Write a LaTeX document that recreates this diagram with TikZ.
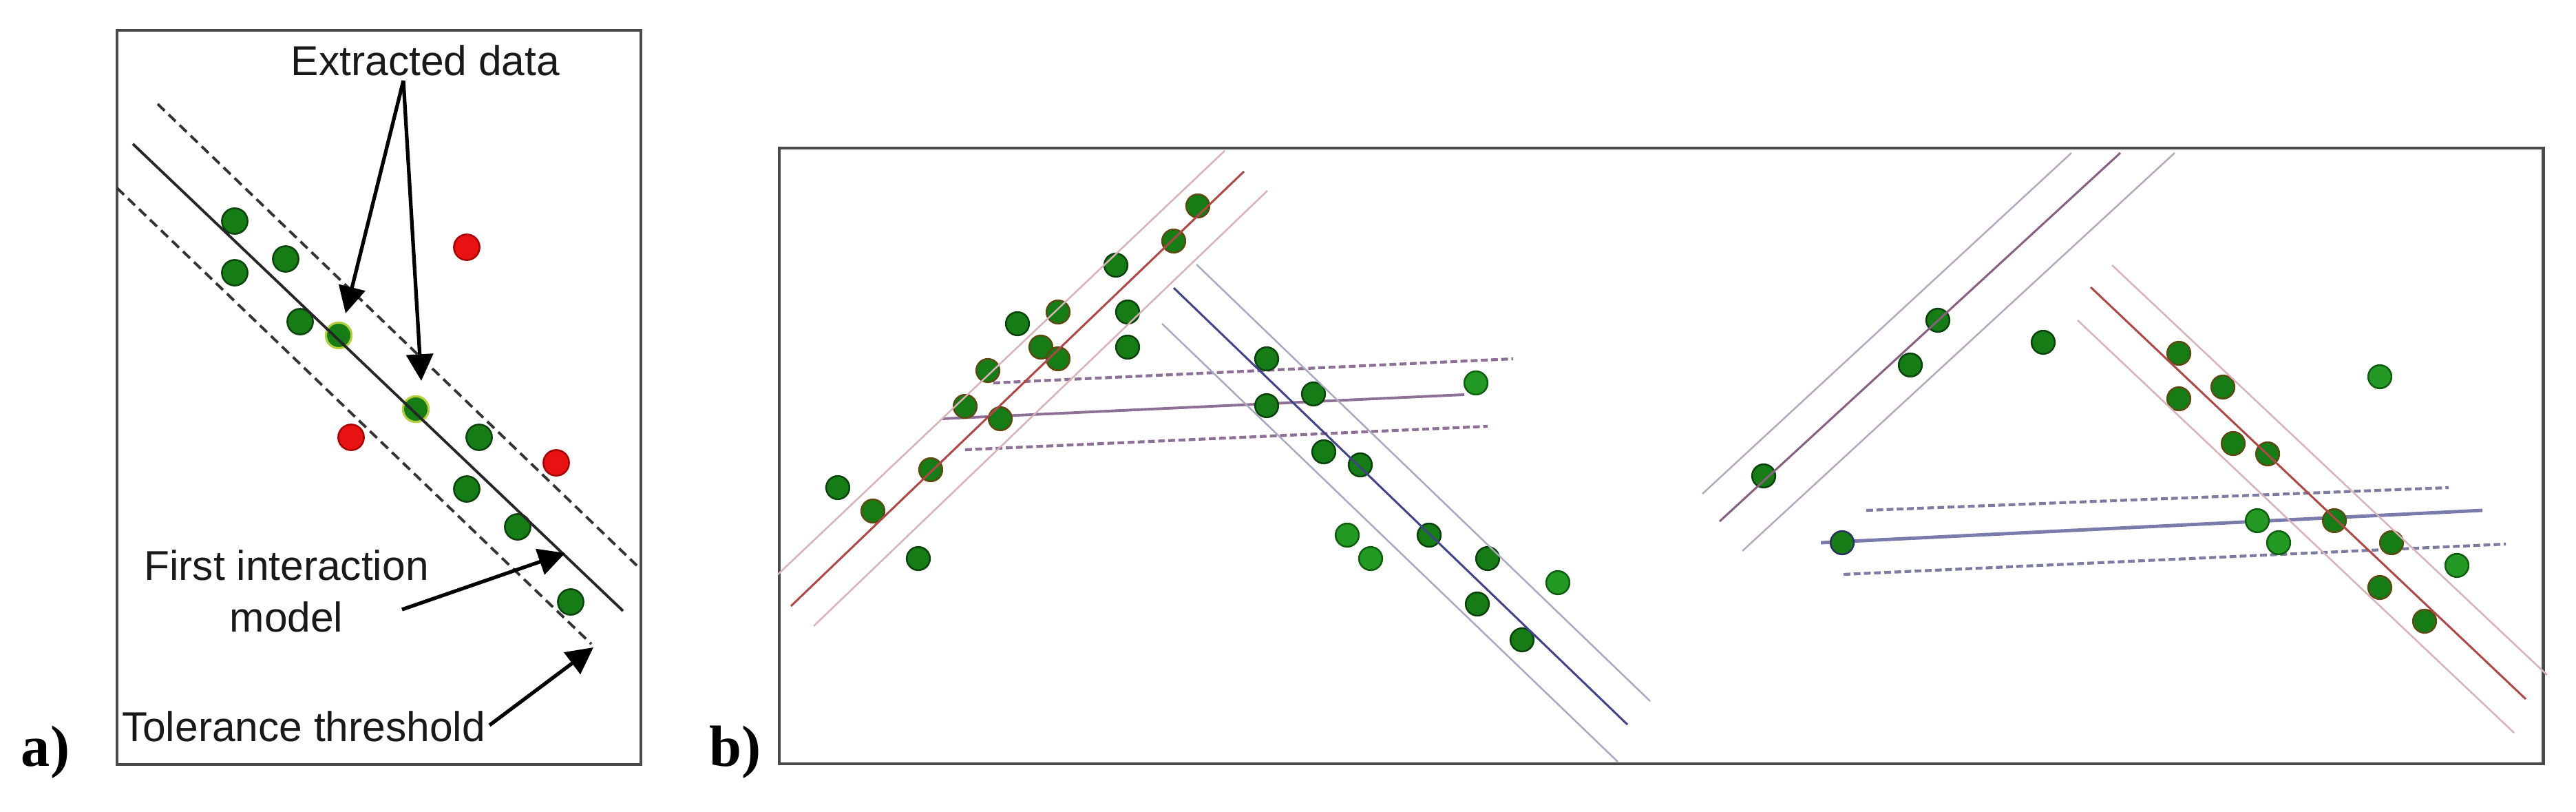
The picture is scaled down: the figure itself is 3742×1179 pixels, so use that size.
\documentclass[tikz,border=0pt]{standalone}
\usepackage{fontspec}
\setmainfont{Liberation Sans}
\newfontfamily\serifb{Liberation Serif}
\usetikzlibrary{arrows.meta}
\definecolor{boxc}{HTML}{4A4A4A}
\definecolor{dgreen}{HTML}{167C16}
\definecolor{ddark}{HTML}{0B420B}
\definecolor{dbrown}{HTML}{5C4A12}
\definecolor{lgreen}{HTML}{239A23}
\definecolor{lgdark}{HTML}{0E5E0E}
\definecolor{hlout}{HTML}{B4CE3C}
\definecolor{rfill}{HTML}{E81212}
\definecolor{rout}{HTML}{A80000}
\definecolor{redl}{HTML}{B04646}
\definecolor{pinkl}{HTML}{D8B2B6}
\definecolor{navyl}{HTML}{42428A}
\definecolor{bgrayl}{HTML}{A8A8C0}
\definecolor{purpl}{HTML}{8C7095}
\definecolor{purpc}{HTML}{86607E}
\definecolor{pgrayl}{HTML}{B4A8BA}
\definecolor{bluel}{HTML}{7A7AAC}
\definecolor{blued}{HTML}{7C7CA2}
\tikzset{
  boxline/.style={draw=boxc, line width=1.4pt},
  lab/.style={font=\fontsize{17.2pt}{20pt}\selectfont, inner sep=0pt, text=black!90},
  lbl/.style={font=\serifb\bfseries\fontsize{24pt}{28pt}\selectfont, inner sep=0pt},
  adot/.style={circle, inner sep=0pt, minimum size=10.6pt, fill=dgreen, draw=ddark, line width=0.7pt},
  hdot/.style={adot, draw=hlout, line width=0.9pt},
  rdot/.style={adot, fill=rfill, draw=rout},
  bdot/.style={circle, inner sep=0pt, minimum size=9.6pt, fill=dgreen, draw=ddark, line width=0.7pt},
  brdot/.style={bdot, draw=dbrown},
  bldot/.style={bdot, fill=lgreen, draw=lgdark},
  asolid/.style={draw=black!85, line width=1.1pt},
  adash/.style={draw=black!80, line width=1.1pt, dash pattern=on 4pt off 2.3pt},
  arr/.style={draw=black, line width=1.5pt, -{Triangle[length=11pt, width=11pt]}},
  cline/.style={line width=0.85pt},
  sline/.style={line width=0.7pt},
  bdash/.style={line width=1.2pt, dash pattern=on 2.8pt off 1.4pt},
}
\begin{document}
\begin{tikzpicture}[x=0.01cm, y=-0.01cm]
\useasboundingbox (0,0) rectangle (3742,1179);
\fill[white] (0,0) rectangle (3742,1179);

% ---------- panel a ----------
\draw[boxline] (170,44) rectangle (931,1110);
\node[adot] (a1) at (341,321) {};
\node[adot] (a2) at (415,376) {};
\node[adot] (a3) at (341,396) {};
\node[adot] (a4) at (436,467) {};
\node[hdot] (a5) at (492,487) {};
\node[hdot] (a6) at (604,594) {};
\node[adot] (a7) at (696,635) {};
\node[adot] (a8) at (678,710) {};
\node[adot] (a9) at (752,765) {};
\node[adot] (a10) at (829,874) {};
\node[rdot] (r1) at (678,359) {};
\node[rdot] (r2) at (510,635) {};
\node[rdot] (r3) at (808,672) {};

\draw[asolid] (193,209) -- (905,887);
\draw[adash] (229,151) -- (925,821);
\draw[adash] (170,273) -- (859,935);

\node[lab, anchor=base] (ext) at (618,110) {Extracted data};
\coordinate (exs) at (586,117);
\coordinate (t1) at (502,455);
\coordinate (t2) at (612,553);
\draw[arr] (exs) -- (t1);
\draw[arr] (exs) -- (t2);

\node[lab, anchor=base] (fim1) at (416,842) {First interaction};
\node[lab, anchor=base] (fim2) at (416,917) {model};
\coordinate (fs) at (584,885);
\coordinate (ft) at (821,803);
\draw[arr] (fs) -- (ft);

\node[lab, anchor=base] (tol) at (441,1076) {Tolerance threshold};
\coordinate (ts) at (711,1053);
\coordinate (tt) at (862,940);
\draw[arr] (ts) -- (tt);

\node[lbl, anchor=base] (la) at (66,1112) {a)};
\node[lbl, anchor=base] (lb) at (1068,1112) {b)};

% ---------- panel b ----------
\draw[boxline] (1132,215) rectangle (3694,1109);

% horizontal groups (under dots)
\draw[purpl, line width=1.1pt] (1369,608) -- (2127,573);
\draw[purpl, bdash] (1443,556) -- (2198,521);
\draw[purpl, bdash] (1402,653) -- (2161,619);
\draw[bluel, line width=1.4pt] (2645,788) -- (3606,741);
\draw[blued, bdash] (2711,741) -- (3557,708);
\draw[blued, bdash] (2678,834) -- (3640,790);

% dots left half
\node[brdot] (b1) at (1740,299) {};
\node[brdot] (b2) at (1705,350) {};
\node[bdot] (b3) at (1621,385) {};
\node[brdot] (b4) at (1537,453) {};
\node[bdot] (b5) at (1638,453) {};
\node[bdot] (b6) at (1478,470) {};
\node[brdot] (b7) at (1512,504) {};
\node[brdot] (b8) at (1537,521) {};
\node[bdot] (b9) at (1638,504) {};
\node[brdot] (b10) at (1435,538) {};
\node[brdot] (b11) at (1402,590) {};
\node[brdot] (b12) at (1453,608) {};
\node[brdot] (b13) at (1352,682) {};
\node[bdot] (b14) at (1217,708) {};
\node[brdot] (b15) at (1268,742) {};
\node[bdot] (b16) at (1334,811) {};
\node[bdot] (b17) at (1840,521) {};
\node[bdot] (b18) at (1840,589) {};
\node[bdot] (b19) at (1908,572) {};
\node[bldot] (b20) at (2144,556) {};
\node[bdot] (b21) at (1923,656) {};
\node[bdot] (b22) at (1976,675) {};
\node[bldot] (b23) at (1957,777) {};
\node[bldot] (b24) at (1991,811) {};
\node[bdot] (b25) at (2076,777) {};
\node[bdot] (b26) at (2161,811) {};
\node[bldot] (b27) at (2263,846) {};
\node[bdot] (b28) at (2146,877) {};
\node[bdot] (b29) at (2211,929) {};

% dots right half
\node[bdot] (c1) at (2815,465) {};
\node[bdot] (c2) at (2775,530) {};
\node[bdot] (c3) at (2562,691) {};
\node[bdot] (c4) at (2968,497) {};
\node[brdot] (c5) at (3165,513) {};
\node[brdot] (c6) at (3229,562) {};
\node[brdot] (c7) at (3165,579) {};
\node[brdot] (c8) at (3244,644) {};
\node[brdot] (c9) at (3294,659) {};
\node[bldot] (c10) at (3457,547) {};
\node[bdot, draw=navyl!70!black] (c11) at (2676,788) {};
\node[bldot] (c12) at (3279,756) {};
\node[bldot] (c13) at (3310,788) {};
\node[brdot] (c14) at (3391,756) {};
\node[brdot] (c15) at (3474,788) {};
\node[bldot] (c16) at (3569,821) {};
\node[brdot] (c17) at (3457,853) {};
\node[brdot] (c18) at (3522,902) {};

% diagonal groups (over dots)
\draw[pinkl, sline] (1130,834) -- (1779,219);
\draw[redl, cline] (1149,880) -- (1807,249);
\draw[pinkl, sline] (1182,909) -- (1841,277);

\draw[bgrayl, sline] (1738,384) -- (2397,1018);
\draw[navyl, cline] (1705,418) -- (2364,1052);
\draw[bgrayl, sline] (1688,470) -- (2350,1106);

\draw[pgrayl, sline] (2473,717) -- (3009,222);
\draw[purpc, cline] (2498,757) -- (3080,222);
\draw[pgrayl, sline] (2531,800) -- (3159,222);

\draw[pinkl, sline] (3068,385) -- (3700,980);
\draw[redl, cline] (3037,417) -- (3669,1015);
\draw[pinkl, sline] (3018,465) -- (3652,1064);
\end{tikzpicture}
\end{document}
